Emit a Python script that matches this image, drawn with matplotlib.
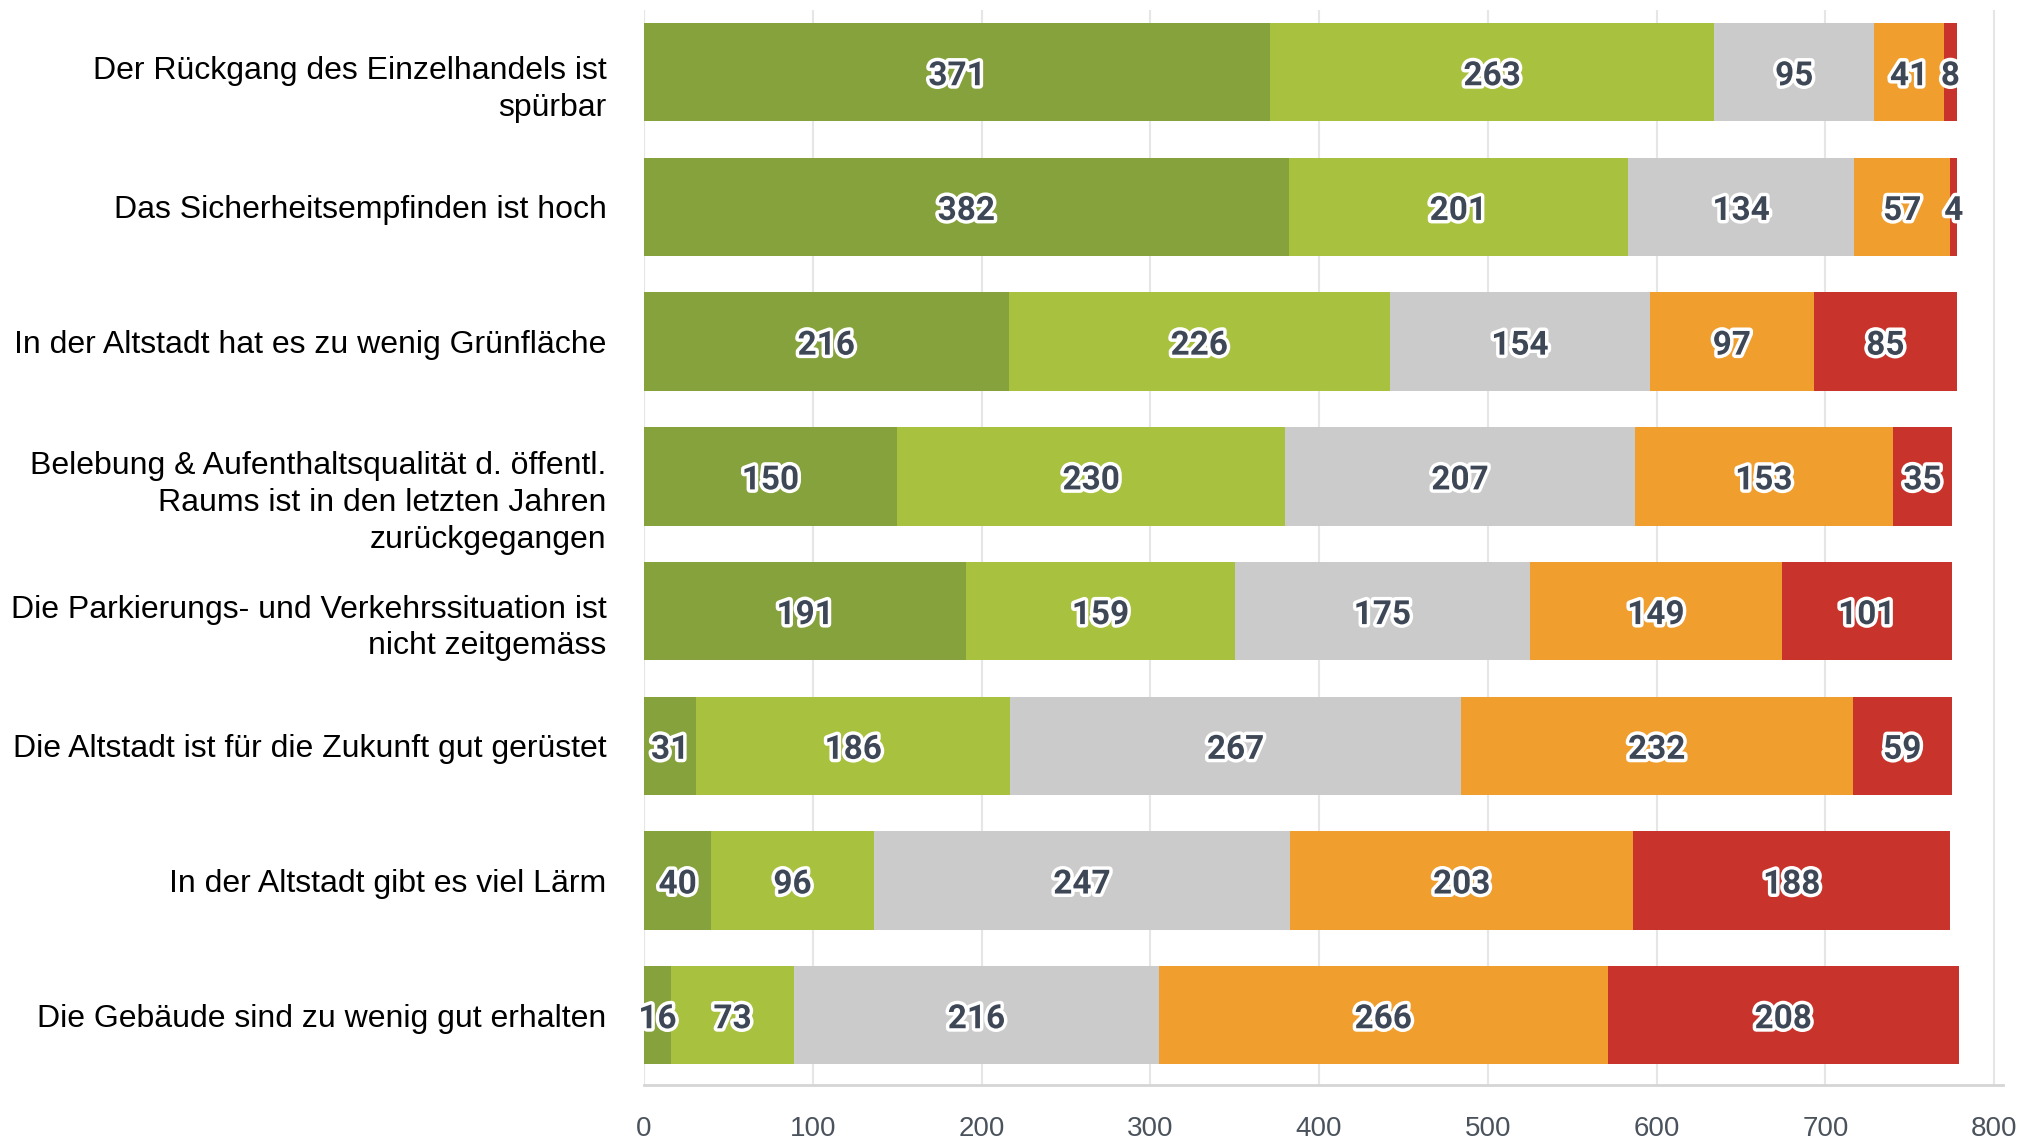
import matplotlib.pyplot as plt
import matplotlib.patheffects as pe
import matplotlib.transforms as mtransforms
import numpy as np

statements = [
    "Der Rückgang des Einzelhandels ist\nspürbar",
    "Das Sicherheitsempfinden ist hoch",
    "In der Altstadt hat es zu wenig Grünfläche",
    "Belebung & Aufenthaltsqualität d. öffentl.\nRaums ist in den letzten Jahren\nzurückgegangen",
    "Die Parkierungs- und Verkehrssituation ist\nnicht zeitgemäss",
    "Die Altstadt ist für die Zukunft gut gerüstet",
    "In der Altstadt gibt es viel Lärm",
    "Die Gebäude sind zu wenig gut erhalten",
]

# answer counts per statement, from "agree fully" to "disagree fully"
agree_full = [371, 382, 216, 150, 191, 31, 40, 16]
agree_part = [263, 201, 226, 230, 159, 186, 96, 73]
neutral = [95, 134, 154, 207, 175, 267, 247, 216]
disagree_part = [41, 57, 97, 153, 149, 232, 203, 266]
disagree_full = [8, 4, 85, 35, 101, 59, 188, 208]

series = [agree_full, agree_part, neutral, disagree_part, disagree_full]
colors = ["#86a23c", "#a8c23f", "#cbcbcb", "#f09e2e", "#c8342b"]
xticks = [0, 100, 200, 300, 400, 500, 600, 700, 800]

fig = plt.figure(figsize=(20.25, 11.4), dpi=100)
ax = fig.add_axes([0.318, 0.048, 0.671, 0.943])

y = np.arange(len(statements))
left = np.zeros(len(statements))
lab_off = mtransforms.ScaledTranslation(0, -4 / 100, fig.dpi_scale_trans)
for vals, col in zip(series, colors):
    vals = np.array(vals)
    ax.barh(y, vals, left=left, height=0.73, color=col, zorder=2)
    for yi, (l, v) in enumerate(zip(left, vals)):
        ax.text(l + v / 2, yi, str(v), ha="center", va="center",
                fontsize=24, fontweight="bold", family="Roboto", color="#3d4756",
                zorder=4, transform=ax.transData + lab_off,
                path_effects=[pe.withStroke(linewidth=5, foreground="white")])
    left = left + vals

ax.set_xlim(0, 805)
ax.set_ylim(7.52, -0.46)
ax.set_xticks(xticks)
ax.set_xticklabels([str(t) for t in xticks], fontsize=20, family="Liberation Sans",
                   color="#4a525c")
ax.set_yticks(y)
ax.set_yticklabels(statements, fontsize=23, family="Liberation Sans", color="black",
                   linespacing=1.3)
ax.tick_params(axis="both", length=0)
ax.tick_params(axis="x", pad=22)
ax.tick_params(axis="y", pad=27)

# multi-line labels sit a bit lower than the bar centre
for lab, txt in zip(ax.get_yticklabels(), statements):
    n = txt.count("\n")
    off = mtransforms.ScaledTranslation(0, -10 * n / 100, fig.dpi_scale_trans)
    lab.set_transform(lab.get_transform() + off)

ax.grid(axis="x", color="#e6e6e6", linewidth=1.5, zorder=0)
for s in ["top", "left", "right"]:
    ax.spines[s].set_visible(False)
ax.spines["bottom"].set_color("#d5d5d5")
ax.spines["bottom"].set_linewidth(2)

fig.savefig("out.png", dpi=100)
